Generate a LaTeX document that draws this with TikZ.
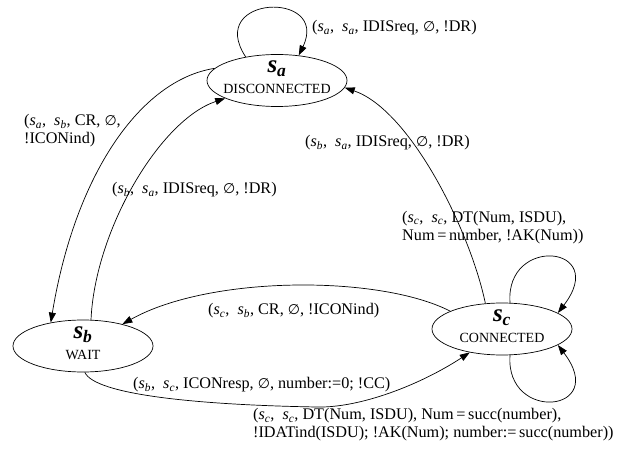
\documentclass[tikz,border=0pt]{standalone}
\usepackage{fontspec}
\setmainfont{Liberation Serif}
\newfontfamily\symfont{DejaVu Sans}
\usetikzlibrary{shapes.geometric,arrows.meta}

% state variable s with an italic subscript
\newcommand\sv[1]{\textit{s}\textsubscript{\textit{#1}}}
% large bold state name
\newcommand\bigsv[1]{{\fontsize{25}{25}\selectfont\bfseries\itshape s\textsubscript{#1}}}
% empty set sign
\newcommand\emp{{\symfont\fontsize{14}{14}\selectfont ∅}}

\tikzset{
  statebox/.style={draw, ellipse, minimum width=140pt, minimum height=52pt, inner sep=0pt, line width=0.7pt},
  statename/.style={inner sep=0pt},
  statetag/.style={inner sep=0pt, font=\fontsize{14}{14}\selectfont},
  edge/.style={line width=0.7pt, -{Triangle[length=10pt,width=7pt]}},
  lbl/.style={font=\fontsize{16.2}{18}\selectfont, inner sep=0pt, anchor=west, align=left},
}

\begin{document}
\begin{tikzpicture}[x=1pt,y=-1pt]
\useasboundingbox (0,0) rectangle (619,457);

% states
\node[statebox] (sa) at (277,80.5) {};
\node[statename] (sa-n) at (277,69) {\bigsv{a}};
\node[statetag]  (sa-t) at (277,88.5) {DISCONNECTED};

\node[statebox] (sb) at (83,346) {};
\node[statename] (sb-n) at (83,335) {\bigsv{b}};
\node[statetag]  (sb-t) at (83,355) {WAIT};

\node[statebox] (sc) at (502,329) {};
\node[statename] (sc-n) at (502,318) {\bigsv{c}};
\node[statetag]  (sc-t) at (502,337.5) {CONNECTED};

% transitions
\draw[edge] (sa.143) .. controls (205,-5) and (330,-10) .. (sa.49);
\draw[edge] (sa.169) .. controls (140,80) and (75,175) .. (sb.144.5);
\draw[edge] (sb.73.5) .. controls (95,230) and (160,120) .. (sa.199);
\draw[edge] (sc.123) .. controls (470,230) and (410,110) .. (sa.-6);
\draw[edge] (sc.161) .. controls (380,275) and (210,275) .. (sb.29);
\coordinate (dip) at (317,407);
\draw[edge] (sb.-86) .. controls (95,395) and (200,405) .. (dip)
                     .. controls (360,408) and (420,385) .. (sc.216);
\draw[edge] (sc.73.5) .. controls (505,235) and (610,245) .. (sc.16);
\draw[edge] (sc.-73.5) .. controls (505,423) and (610,413) .. (sc.-16);

% transition labels
\node[lbl] (l-aa) at (312,28) {(\sv{a},\ \ \sv{a}, IDISreq, \emp, !DR)};
\node[lbl] (l-ab) at (24,131) {(\sv{a},\ \ \sv{b}, CR, \emp,\\!ICONind)};
\node[lbl] (l-ba) at (112,190) {(\sv{b},\ \ \sv{a}, IDISreq, \emp, !DR)};
\node[lbl] (l-ca) at (305,143) {(\sv{b},\ \ \sv{a}, IDISreq, \emp, !DR)};
\node[lbl] (l-cc1) at (402,227.5) {(\sv{c},\ \ \sv{c}, DT(Num, ISDU),\\Num\,=\,number, !AK(Num))};
\node[lbl] (l-cb) at (208,311) {(\sv{c},\ \ \sv{b}, CR, \emp, !ICONind)};
\node[lbl] (l-bc) at (133,385) {(\sv{b},\ \ \sv{c}, ICONresp, \emp, number:=0; !CC)};
\node[lbl] (l-cc2) at (253,425) {(\sv{c},\ \ \sv{c}, DT(Num, ISDU), Num\,=\,succ(number),\\!IDATind(ISDU); !AK(Num); number:=\,succ(number))};
\end{tikzpicture}
\end{document}
